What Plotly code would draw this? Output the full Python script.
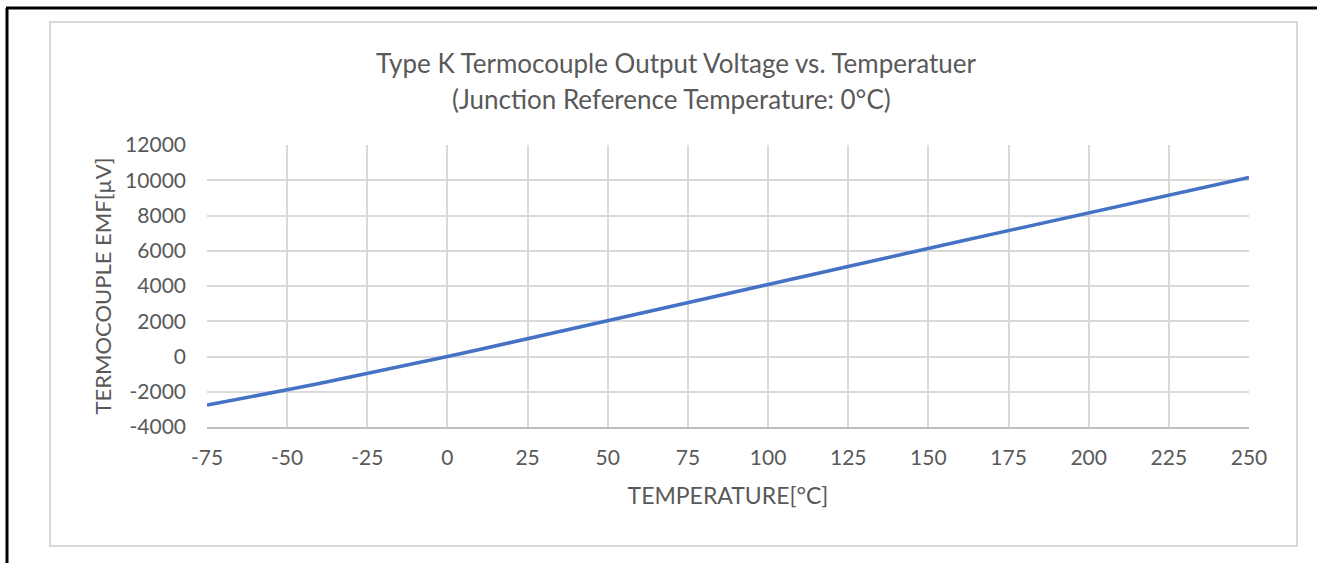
import plotly.graph_objects as go

# Type K thermocouple EMF (µV), reference junction at 0 °C
temperature_c = [-75, -70, -60, -50, -40, -30, -20, -10, 0, 10, 20, 30, 40, 50,
                 60, 70, 80, 90, 100, 110, 120, 130, 140, 150, 160, 170, 180,
                 190, 200, 210, 220, 230, 240, 250]
emf_uv = [-2755, -2587, -2243, -1889, -1527, -1156, -778, -392, 0, 397, 798,
          1203, 1612, 2023, 2436, 2851, 3267, 3682, 4096, 4509, 4920, 5328,
          5735, 6138, 6540, 6941, 7340, 7739, 8138, 8539, 8940, 9343, 9747,
          10153]

x_ticks = list(range(-75, 251, 25))
y_ticks = list(range(-4000, 12001, 2000))

FONT = "Lato"
TEXT = "#595959"
GRID = "#D9D9D9"

# figure / plot area in pixels
W, H = 1317, 563
L, R, T, B = 207, 1249, 145, 427


def px_x(px):
    return (px - L) / (R - L)


def px_y(py):
    return (B - py) / (B - T)


fig = go.Figure(go.Scatter(
    x=temperature_c, y=emf_uv,
    mode="lines",
    line=dict(color="#4472C4", width=3.5),
    showlegend=False,
))

fig.update_layout(
    width=W, height=H,
    margin=dict(l=L, r=W - R, t=T, b=H - B),
    paper_bgcolor="white",
    plot_bgcolor="white",
    font=dict(family=FONT, color=TEXT, size=21),
    xaxis=dict(
        range=[-75, 250], tickvals=x_ticks,
        ticktext=[str(v) for v in x_ticks],
        showgrid=True, gridcolor=GRID, gridwidth=1.5, zeroline=False,
        showline=True, linecolor="#BFBFBF", linewidth=1.5, ticks="",
        ticklabelstandoff=11,
        title=dict(text="TEMPERATURE[°C]", standoff=20, font=dict(size=23)),
    ),
    yaxis=dict(
        range=[-4000, 12000], tickvals=y_ticks,
        ticktext=[str(v) for v in y_ticks],
        showgrid=True, gridcolor=GRID, gridwidth=1.5, zeroline=False,
        showline=False, ticks="", ticklabelstandoff=20,
        title=dict(text="TERMOCOUPLE EMF[µV]", standoff=7, font=dict(size=22)),
    ),
    shapes=[
        # outer light frame of the chart
        dict(type="rect", xref="paper", yref="paper",
             x0=px_x(50), x1=px_x(1297), y0=px_y(546), y1=px_y(22),
             line=dict(color=GRID, width=2), layer="below"),
        # black page border (top and left)
        dict(type="line", xref="paper", yref="paper",
             x0=px_x(6), x1=px_x(1330), y0=px_y(8), y1=px_y(8),
             line=dict(color="black", width=3)),
        dict(type="line", xref="paper", yref="paper",
             x0=px_x(7), x1=px_x(7), y0=px_y(8), y1=px_y(600),
             line=dict(color="black", width=3)),
    ],
    annotations=[
        dict(text="Type K Termocouple Output Voltage vs. Temperatuer",
             xref="paper", yref="paper", x=px_x(676), y=px_y(63),
             showarrow=False, font=dict(size=26), yanchor="middle"),
        dict(text="(Junction Reference Temperature: 0°C)",
             xref="paper", yref="paper", x=px_x(671), y=px_y(99),
             showarrow=False, font=dict(size=26), yanchor="middle"),
    ],
)

# drop the browser's default body margin so the figure sits at (0, 0)
fig.write_html("out.html", config={"displayModeBar": False},
               post_script="document.body.style.margin='0';")
